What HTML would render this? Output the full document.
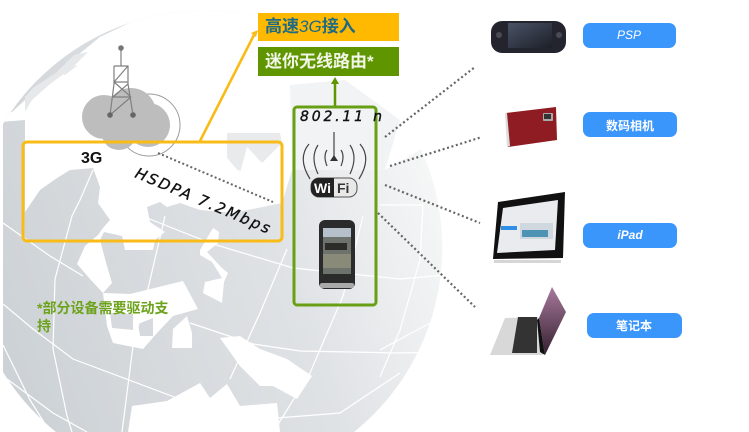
<!DOCTYPE html>
<html><head><meta charset="utf-8">
<style>
html,body{margin:0;padding:0;background:#fff;overflow:hidden;height:432px}
#w{position:relative;width:749px;height:432px;overflow:hidden;background:#fff}
svg{position:absolute;left:0;top:0;display:block}
text{font-family:"Liberation Sans","Noto Sans CJK SC",sans-serif}
</style></head><body><div id="w">
<svg width="749" height="432" viewBox="0 0 749 432">
<defs>
<linearGradient id="g" x1="0" y1="0.75" x2="1" y2="0.4">
<stop offset="0" stop-color="#cdd2d6"/><stop offset="0.6" stop-color="#dfe2e5"/><stop offset="1" stop-color="#f7f8f8"/>
</linearGradient>
<clipPath id="gc"><path d="M56 432A237 237 0 0 1 3 372L3 124A237 237 0 1 1 354 432Z"/></clipPath>
<linearGradient id="scr" x1="0" y1="0" x2="1" y2="1"><stop offset="0" stop-color="#4a5266"/><stop offset="1" stop-color="#1c2028"/></linearGradient>
<linearGradient id="lap" x1="0" y1="0" x2="0" y2="1"><stop offset="0" stop-color="#a87a9c"/><stop offset="1" stop-color="#33202f"/></linearGradient>
</defs>
<g clip-path="url(#gc)">
<rect x="0" y="0" width="445" height="432" fill="url(#g)"/>
<!-- main white land -->
<path d="M0 112L12 112L25 100L25 97L57 72L100 37L167 5L445 5L445 120L420 150L385 170L292 170L282 203L233 213L200 210L180 203L167 207L160 202L147 207L150 222L165 232L155 240L153 250L125 250L122 236L104 232L100 240L107 266L112 283L103 293L90 279L77 264L85 246L98 235L103 228L110 220L98 203L100 187L93 168L70 170L57 178L40 190L25 212L25 120L0 122Z" fill="#fff"/>
<!-- pale coast strips -->
<path d="M25 97L33 88L57 72L74 55L88 52L72 68L50 84L32 100L25 112Z" fill="#e6e8ea"/>
<path d="M58 70L78 65L65 75Z" fill="#e6e8ea"/>
<path d="M227 133L280 133L282 143L262 163L247 147L240 173L227 158Z" fill="#e8eaec"/>
<path d="M290 85L345 80L400 120L385 170L292 170Z" fill="#f2f3f4"/>
<!-- ring land -->
<path d="M103 293L130 294L183 281L198 309L173 316L157 333L143 349L113 343L107 326Z" fill="#fff"/>
<path d="M110 313L133 314L133 330L112 328Z" fill="#d6dade"/>
<path d="M138 324L153 318L153 336L140 336Z" fill="#d6dade"/>
<path d="M172 348L173 329L187 316L192 333L192 348Z" fill="#fff"/>
<path d="M200 250L213 228L219 232L218 243L207 252L222 268L228 273L224 282L222 303L203 293L205 282L222 278L212 262L200 255Z" fill="#fff"/>
<path d="M220 338L240 336L260 349L287 359L312 376L297 399L273 386L260 386L240 366Z" fill="#fff"/>
<path d="M128 432L132 406L167 401L200 383L210 398L227 384L240 406L277 403L280 432Z" fill="#fff"/>
<!-- grid lines -->
<g fill="none" stroke="#fff" stroke-width="1.2">
<path d="M3 223L50 256L83 276M190 323L253 344L300 351L400 353L445 352"/>
<path d="M3 304L33 329L73 359L177 398"/>
<path d="M3 376L53 413L87 432"/>
<path d="M147 218L213 244L293 268L400 279L445 275"/>
<path d="M230 168L280 185"/>
<path d="M93 170L80 200L72 216L55 279L53 349L67 416L72 432"/>
<path d="M165 216L147 293L133 346L122 432"/>
<path d="M287 249L260 313L230 379"/>
<path d="M363 216L343 296L310 373L277 426"/>
<path d="M380 205L423 205L420 260L400 330L380 377"/>
<path d="M380 350L430 323"/>
<path d="M277 418L340 413L400 373"/>
<path d="M3 345L30 400L50 432"/>
</g>
</g>

<!-- yellow connector -->
<path d="M200 141L255 33" stroke="#f9bb17" stroke-width="2.6" fill="none"/>
<path d="M258 30L251 33L256 37Z" fill="#f9bb17"/>

<!-- cloud -->
<circle cx="149" cy="125" r="31" fill="#fff" stroke="#9b9b9b" stroke-width="1"/>
<g fill="#bdbdbd">
<circle cx="104" cy="117" r="22"/><circle cx="131" cy="113" r="25"/><circle cx="148" cy="125" r="22"/>
<ellipse cx="119" cy="134" rx="17" ry="16"/><ellipse cx="130" cy="125" rx="25" ry="15"/>
</g>
<!-- tower -->
<g stroke="#808080" stroke-width="1.2" fill="none">
<path d="M121 49V66M114 66H128V84L133 115M114 66L114 84L110 115M114 82H128M114 82L131 97M128 66L114 82M131 97H113M131 97L110 115M128 84L113 97"/>
</g>
<circle cx="121" cy="48" r="2.8" fill="#777"/><circle cx="110" cy="115" r="2.8" fill="#666"/><circle cx="133" cy="115" r="2.8" fill="#666"/>

<!-- box 3G -->
<rect x="23" y="142" width="259" height="99" rx="4" fill="none" stroke="#f9bb17" stroke-width="3"/>
<text x="81" y="163" font-size="16" font-weight="bold" fill="#111">3G</text>
<path d="M158 153L273 202" stroke="#666" stroke-width="2" stroke-dasharray="2 2.4" fill="none"/>
<text transform="translate(134 177) rotate(23)" font-size="15" font-style="italic" fill="#111" stroke="#111" stroke-width=".3" style="font-family:'DejaVu Sans',sans-serif" textLength="145">HSDPA 7.2Mbps</text>

<!-- top labels -->
<rect x="258" y="13" width="141" height="28" fill="#ffb900"/>
<text x="265" y="32" font-size="17" font-weight="bold" fill="#1d6a86">高速<tspan font-style="italic" font-weight="normal">3G</tspan>接入</text>
<rect x="258" y="47" width="141" height="29" fill="#5f9600"/>
<text x="265" y="67" font-size="17" font-weight="bold" fill="#f2f6e8">迷你无线路由*</text>
<path d="M335 106V81" stroke="#5f9600" stroke-width="2.5"/>
<path d="M335 77L331 84H339Z" fill="#5f9600"/>

<!-- green box -->
<rect x="294" y="107" width="82" height="198" rx="3" fill="none" stroke="#689f14" stroke-width="3"/>
<text x="300" y="121" font-size="14" font-style="italic" fill="#111" stroke="#111" stroke-width=".4" style="font-family:'DejaVu Sans',sans-serif" textLength="82">802.11 n</text>
<!-- wifi -->
<g fill="none" stroke="#444" stroke-width="1.2">
<path d="M334 132V160"/>
<path d="M327 150Q323 156 327 166M341 150Q345 156 341 166"/>
<path d="M318 145Q310 157 318 174M350 145Q358 157 350 174"/>
<path d="M309 144Q297 158 310 179M360 144Q372 158 359 179"/>
</g>
<path d="M334 155L338 161H330Z" fill="#333"/>
<rect x="311" y="178" width="46" height="19" rx="8" fill="#e8e8e8" stroke="#555"/>
<path d="M319 178H334V197H319A8 8 0 0 1 311 189V186A8 8 0 0 1 319 178Z" fill="#222"/>
<text x="314" y="193" font-size="14" font-weight="bold" fill="#fff">Wi</text>
<text x="337" y="193" font-size="14" font-weight="bold" fill="#333">Fi</text>
<!-- phone -->
<rect x="319" y="220" width="36" height="69" rx="6" fill="#2b2b2b"/>
<rect x="323" y="228" width="28" height="46" fill="#6e726c"/>
<rect x="323" y="228" width="28" height="9" fill="#b5c0ca"/>
<rect x="325" y="243" width="22" height="7" fill="#2c2c28"/>
<rect x="323" y="254" width="28" height="14" fill="#8a8a78"/>
<rect x="320" y="283" width="34" height="5" rx="2" fill="#a9a9a9"/>

<!-- dotted lines -->
<g stroke="#666" stroke-width="2.2" stroke-dasharray="2 2.6" fill="none">
<path d="M385 137L475 67"/><path d="M390 166L482 137"/><path d="M385 185L480 223"/><path d="M378 213L475 307"/>
</g>

<!-- note -->
<text x="37" y="313" font-size="14" font-weight="bold" fill="#6da31c">*部分设备需要驱动支</text>
<text x="37" y="331" font-size="14" font-weight="bold" fill="#6da31c">持</text>

<!-- PSP -->
<rect x="491" y="21" width="75" height="32" rx="11" fill="#23242e"/>
<rect x="508" y="23" width="44" height="25" fill="url(#scr)"/>
<circle cx="499" cy="35" r="3" fill="#4a4a55"/><circle cx="559" cy="35" r="3" fill="#4a4a55"/>
<!-- camera -->
<path d="M506 113L556 107L557 140L508 147Z" fill="#8f1c22"/>
<rect x="543" y="113" width="10" height="8" rx="1" fill="#aaa"/>
<rect x="544" y="114" width="7" height="5" fill="#333"/>
<path d="M505 113L507 113L510 146L507 147Z" fill="#ddd"/>
<!-- iPad -->
<path d="M498 202L565 192L563 258L493 259Z" fill="#111"/>
<path d="M503 208L558 200L555 250L497 253Z" fill="#e9ebee"/>
<rect x="501" y="226" width="16" height="4" fill="#2f8fe6"/>
<rect x="520" y="223" width="33" height="16" fill="#cfd8de"/>
<rect x="522" y="230" width="26" height="7" fill="#4e93b4"/>
<path d="M494 260L561 260L561 263L494 263Z" fill="#d6d6d6"/>
<!-- laptop -->
<path d="M505 318L538 317L543 355L490 355Z" fill="#d8d8d8"/>
<path d="M518 317L537 317L537 353L512 353Z" fill="#333"/>
<path d="M552 287L566 312L545 355L539 318Z" fill="url(#lap)"/>
<path d="M539 318L545 355L540 352L537 320Z" fill="#111"/>

<!-- buttons -->
<g fill="#3a96fb">
<rect x="583" y="23" width="93" height="25" rx="7"/>
<rect x="583" y="112" width="94" height="25" rx="7"/>
<rect x="583" y="223" width="94" height="25" rx="7"/>
<rect x="587" y="313" width="95" height="25" rx="7"/>
</g>
<g fill="#fff" font-size="12" font-weight="bold" text-anchor="middle">
<text x="629" y="39" font-style="italic" font-weight="normal">PSP</text>
<text x="630" y="130">数码相机</text>
<text x="630" y="239" font-style="italic">iPad</text>
<text x="634" y="330">笔记本</text>
</g>
</svg>
</div></body></html>
